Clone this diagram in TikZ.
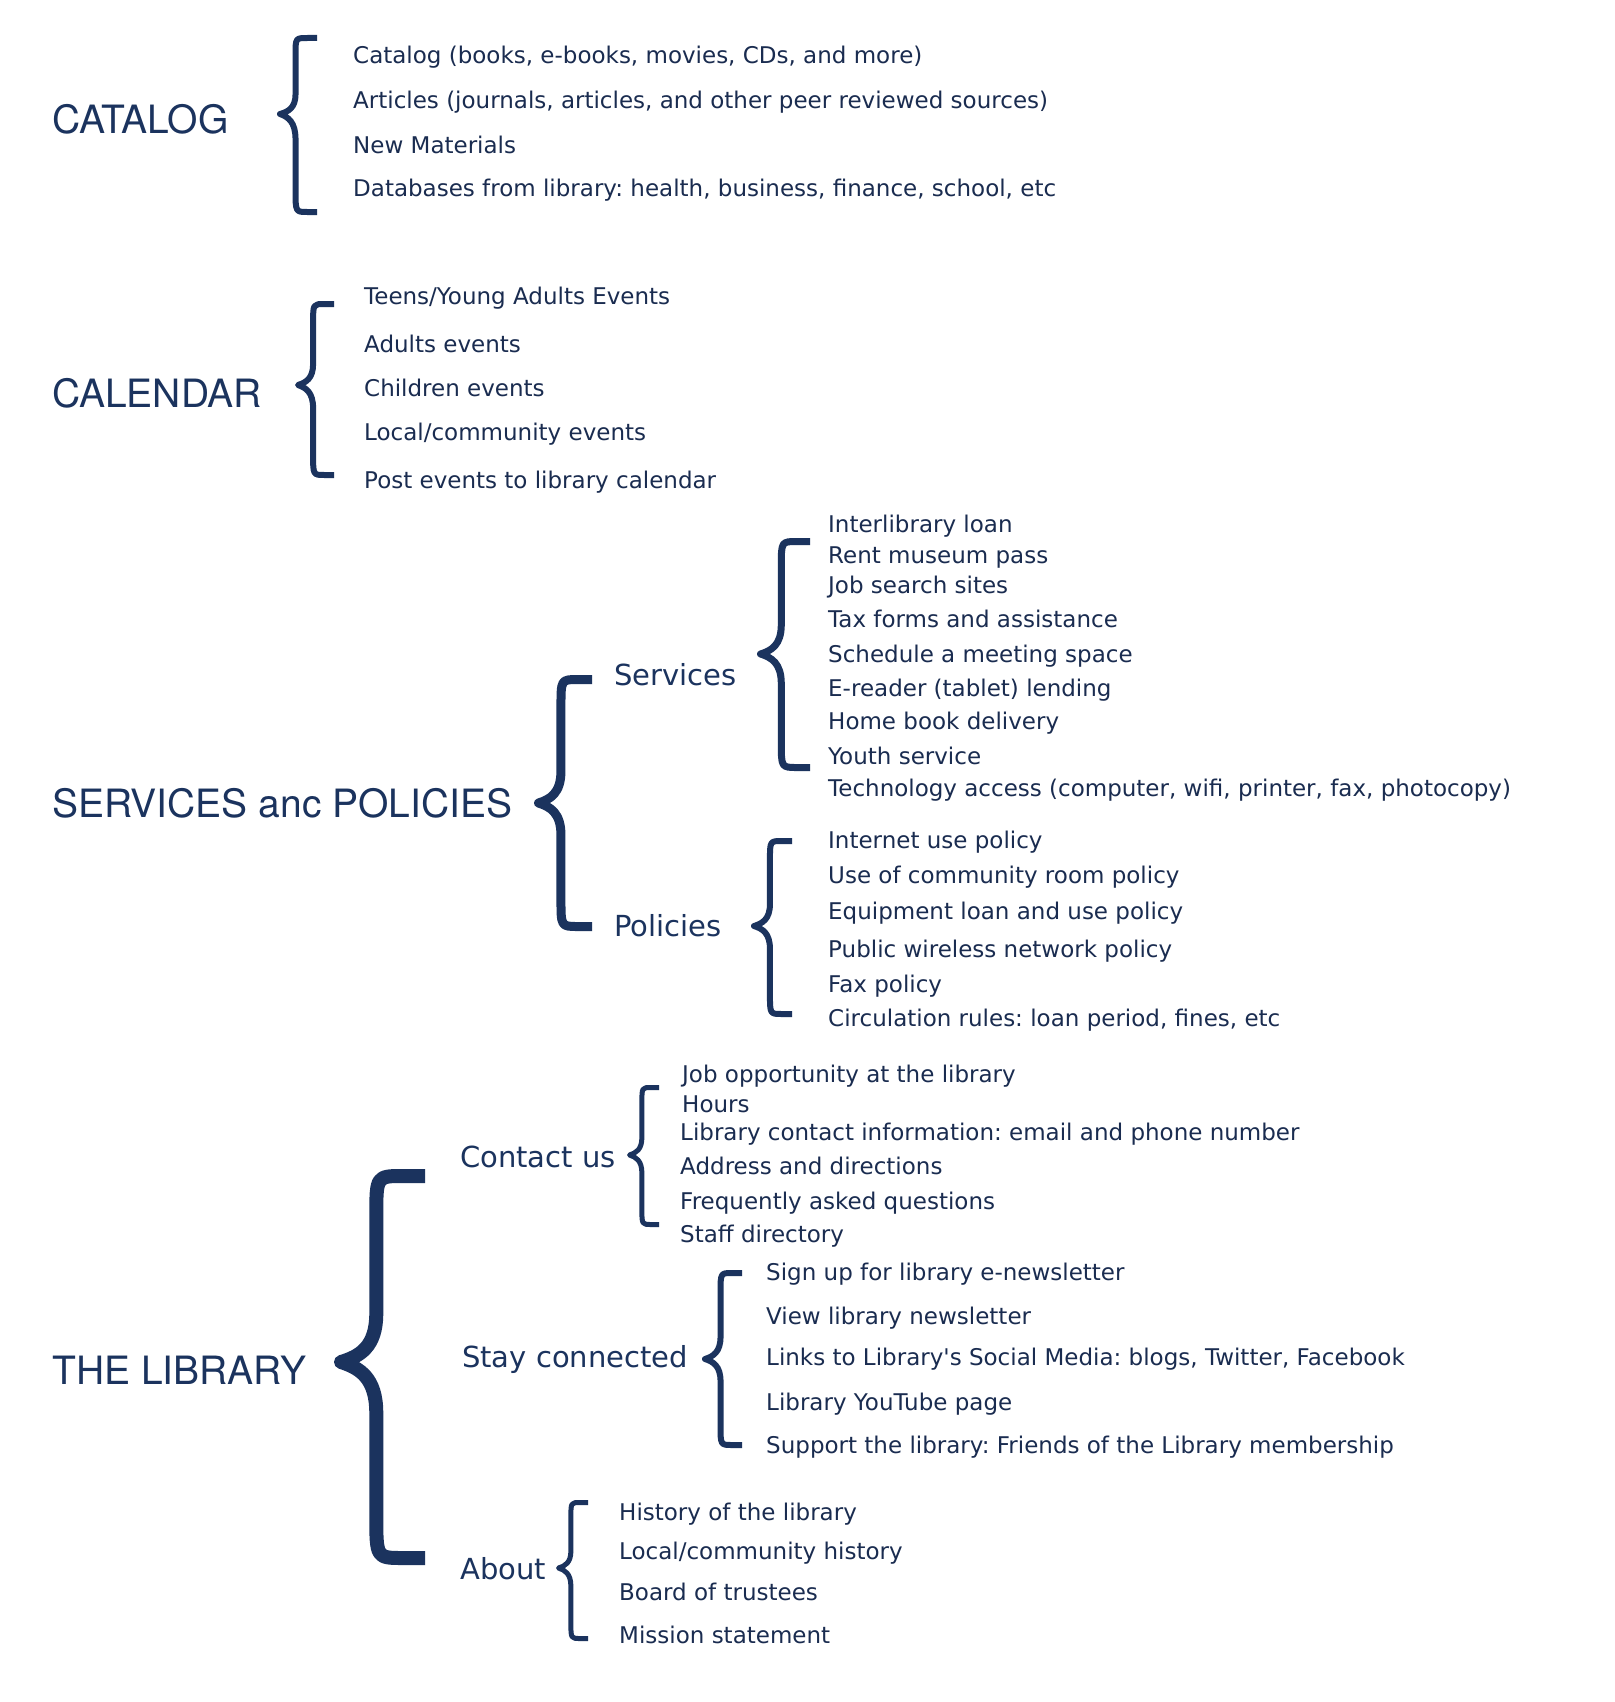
\documentclass[tikz,border=0pt]{standalone}
\usepackage{fontspec}
\newfontfamily\herosfont{TeX Gyre Heros}
\newfontfamily\dvfont{DejaVu Sans}
\definecolor{navy}{HTML}{1B335E}
\definecolor{inkc}{HTML}{1A2C50}
\frenchspacing
\newcommand\bigf{\herosfont\fontsize{39}{45}\selectfont}
\newcommand\subf{\dvfont\fontsize{29}{35}\selectfont}
\newcommand\itemf{\dvfont\fontsize{23}{28}\selectfont}
\tikzset{
  biglabel/.style={font=\bigf, text=navy, anchor=west, inner sep=0pt, text height=0.72em, text depth=0pt, yshift=-11pt},
  sublabel/.style={font=\subf, text=navy, anchor=west, inner sep=0pt, text height=0.73em, text depth=0pt, yshift=-7pt},
  itemlabel/.style={font=\itemf, text=inkc, anchor=west, inner sep=0pt, text height=0.73em, text depth=0pt, yshift=-5.5pt},
  bracestyle/.style={draw=navy, line cap=butt, line join=round}
}
% #1 tip x, #2 end x, #3 top y, #4 bottom y, #5 tip y, #6 line width (visual extents)
\newcommand\drawbrace[6]{%
  \pgfmathsetmacro\brT{#1+#6/2}%
  \pgfmathsetmacro\brE{#2}%
  \pgfmathsetmacro\brTop{#3+#6/2}%
  \pgfmathsetmacro\brBot{#4-#6/2}%
  \pgfmathsetmacro\brW{\brE-\brT}%
  \pgfmathsetmacro\brS{\brT+0.42*\brW}%
  \pgfmathsetmacro\brHa{#5-\brTop}%
  \pgfmathsetmacro\brHb{\brBot-#5}%
  \draw[bracestyle, line width=#6]
    (\brE,\brTop) -- ({\brS+0.32*\brW},\brTop)
    .. controls (\brS,\brTop) .. (\brS,{\brTop+0.22*\brHa})
    -- (\brS,{#5-0.26*\brHa})
    .. controls (\brS,{#5-0.08*\brHa}) and ({\brT+0.22*\brW},{#5-0.03*\brHa}) .. (\brT,#5)
    .. controls ({\brT+0.22*\brW},{#5+0.03*\brHb}) and (\brS,{#5+0.08*\brHb}) .. (\brS,{#5+0.26*\brHb})
    -- (\brS,{\brBot-0.22*\brHb})
    .. controls (\brS,\brBot) .. ({\brS+0.32*\brW},\brBot)
    -- (\brE,\brBot);
}
\begin{document}
\begin{tikzpicture}[x=1pt,y=-1pt]
\useasboundingbox[fill=white] (0,0) rectangle (1614,1702);

% CATALOG
\node[biglabel] (catalog) at (52,119) {CATALOG};
\drawbrace{277}{317}{35}{215}{114}{6}
\node[itemlabel] (cat1) at (353,54) {Catalog (books, e-books, movies, CDs, and more)};
\node[itemlabel] (cat2) at (353,99) {Articles (journals, articles, and other peer reviewed sources)};
\node[itemlabel] (cat3) at (353,144) {New Materials};
\node[itemlabel] (cat4) at (353,187) {Databases from library: health, business, finance, school, etc};

% CALENDAR
\node[biglabel] (calendar) at (52,393) {CALENDAR};
\drawbrace{295}{334}{301}{478}{385}{6}
\node[itemlabel] (cal1) at (364,295) {Teens/Young Adults Events};
\node[itemlabel] (cal2) at (364,343) {Adults events};
\node[itemlabel] (cal3) at (364,387) {Children events};
\node[itemlabel] (cal4) at (364,431) {Local/community events};
\node[itemlabel] (cal5) at (364,479) {Post events to library calendar};

% SERVICES anc POLICIES
\node[biglabel] (servpol) at (52,803) {SERVICES anc POLICIES};
\drawbrace{534}{592}{675}{931}{803}{9}
\node[sublabel] (services) at (614,675) {Services};
\node[sublabel] (policies) at (614,926) {Policies};
\drawbrace{757}{810}{538}{771}{654}{7}
\node[itemlabel] (s1) at (828,523) {Interlibrary loan};
\node[itemlabel] (s2) at (828,554) {Rent museum pass};
\node[itemlabel] (s3) at (828,584) {Job search sites};
\node[itemlabel] (s4) at (828,618) {Tax forms and assistance};
\node[itemlabel] (s5) at (828,653) {Schedule a meeting space};
\node[itemlabel] (s6) at (828,687) {E-reader (tablet) lending};
\node[itemlabel] (s7) at (828,720) {Home book delivery};
\node[itemlabel] (s8) at (828,755) {Youth service};
\node[itemlabel] (s9) at (828,787) {Technology access (computer, wifi, printer, fax, photocopy)};
\drawbrace{751}{792}{838}{1017}{926}{6}
\node[itemlabel] (p1) at (828,839) {Internet use policy};
\node[itemlabel] (p2) at (828,874) {Use of community room policy};
\node[itemlabel] (p3) at (828,910) {Equipment loan and use policy};
\node[itemlabel] (p4) at (828,948) {Public wireless network policy};
\node[itemlabel] (p5) at (828,983) {Fax policy};
\node[itemlabel] (p6) at (828,1017) {Circulation rules: loan period, fines, etc};

% THE LIBRARY
\node[biglabel] (library) at (52,1370) {THE LIBRARY};
\drawbrace{334}{425}{1169}{1565}{1362}{14}
\node[sublabel] (contact) at (460,1157) {Contact us};
\node[sublabel] (stay) at (462,1357) {Stay connected};
\node[sublabel] (about) at (460,1569) {About};
\drawbrace{627}{659}{1085}{1227}{1155}{5}
\node[itemlabel] (c1) at (682,1073) {Job opportunity at the library};
\node[itemlabel] (c2) at (682,1103) {Hours};
\node[itemlabel] (c3) at (680,1131) {Library contact information: email and phone number};
\node[itemlabel] (c4) at (680,1165) {Address and directions};
\node[itemlabel] (c5) at (680,1200) {Frequently asked questions};
\node[itemlabel] (c6) at (680,1233) {Staff directory};
\drawbrace{702}{742}{1270}{1448}{1359}{6}
\node[itemlabel] (k1) at (766,1271) {Sign up for library e-newsletter};
\node[itemlabel] (k2) at (766,1315) {View library newsletter};
\node[itemlabel] (k3) at (766,1356) {Links to Library's Social Media: blogs, Twitter, Facebook};
\node[itemlabel] (k4) at (766,1401) {Library YouTube page};
\node[itemlabel] (k5) at (766,1444) {Support the library: Friends of the Library membership};
\drawbrace{556}{588}{1500}{1641}{1568}{5}
\node[itemlabel] (a1) at (619,1511) {History of the library};
\node[itemlabel] (a2) at (619,1550) {Local/community history};
\node[itemlabel] (a3) at (619,1591) {Board of trustees};
\node[itemlabel] (a4) at (619,1634) {Mission statement};
\end{tikzpicture}
\end{document}
